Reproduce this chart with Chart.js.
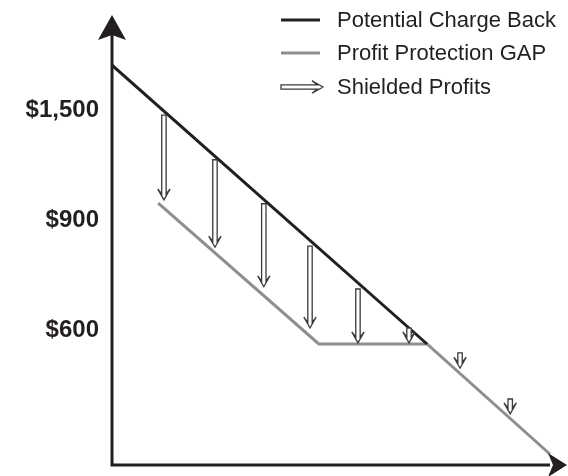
<!DOCTYPE html>
<html>
<head>
<meta charset="utf-8">
<script src="https://cdn.jsdelivr.net/npm/chart.js@4.4.1/dist/chart.umd.min.js"></script>
<style>
  html, body { margin: 0; padding: 0; background: #fff; }
  canvas { display: block; }
</style>
</head>
<body>
<canvas id="shieldChart" width="568" height="476"></canvas>
<script>
// ===== DATA (schematic units) =====
const seriesLabels = ['Potential Charge Back', 'Profit Protection GAP', 'Shielded Profits'];

const chargeBackX = [0, 71.6];
const chargeBackY = [72.7, 22];

const gapX = [10.5, 47, 71.6, 99.5];
const gapY = [47.6, 22, 22, 2];

// shielded profit arrows: x position, where the arrow starts, where it points to
const shieldX = [11.8, 23.4, 34.5, 45, 55.9, 67.5, 79.1, 90.5];
const shieldFrom = [63.6, 55.5, 47.5, 39.8, 32.0, 24.9, 20.4, 12.0];
const shieldTo = [48.2, 39.6, 32.4, 24.9, 22.2, 22.2, 17.6, 9.3];

const yTickValues = [24.5, 44.5, 64.5];
const yTickLabels = ['$600', '$900', '$1,500'];

const INK = '#231f20';
const GREY = '#8e8e8e';
const ARROW_INK = '#3a3a3a';

// hollow "⇓" style arrow, tip at (0,0) pointing +y, rotated by angle
function drawHollowArrow(ctx, tipX, tipY, length, angle) {
    const s = 2.2, h = 6.2, L = 11, n = 6;
    ctx.save();
    ctx.translate(tipX, tipY);
    ctx.rotate(angle);
    ctx.beginPath();
    ctx.moveTo(-s, -length);
    ctx.lineTo(-s, -n);
    ctx.lineTo(-h, -L);
    ctx.lineTo(0, 0);
    ctx.lineTo(h, -L);
    ctx.lineTo(s, -n);
    ctx.lineTo(s, -length);
    ctx.closePath();
    ctx.fillStyle = '#fff';
    ctx.fill();
    ctx.lineWidth = 1.3;
    ctx.lineJoin = 'miter';
    ctx.strokeStyle = ARROW_INK;
    ctx.stroke();
    ctx.restore();
}

const shieldArrows = {
    id: 'shieldArrows',
    afterDatasetsDraw(chart) {
        const { ctx } = chart;
        const meta = chart.getDatasetMeta(2);
        const yScale = chart.scales.y;
        meta.data.forEach((pt, i) => {
            const top = yScale.getPixelForValue(shieldFrom[i]);
            drawHollowArrow(ctx, pt.x, pt.y, pt.y - top, 0);
        });
    }
};

const arrowAxes = {
    id: 'arrowAxes',
    afterDatasetsDraw(chart) {
        const { ctx, chartArea: { left, right, top, bottom } } = chart;
        ctx.save();
        ctx.strokeStyle = INK;
        ctx.fillStyle = INK;
        ctx.lineWidth = 3;
        ctx.lineJoin = 'miter';
        ctx.beginPath();
        ctx.moveTo(left, top + 8);
        ctx.lineTo(left, bottom);
        ctx.lineTo(right - 2, bottom);
        ctx.stroke();

        // y arrowhead
        ctx.beginPath();
        ctx.moveTo(left, top - 10);
        ctx.lineTo(left - 14, top + 15);
        ctx.lineTo(left, top + 10);
        ctx.lineTo(left + 14, top + 15);
        ctx.closePath();
        ctx.fill();

        // x arrowhead
        ctx.beginPath();
        ctx.moveTo(right + 15, bottom);
        ctx.lineTo(right - 4, bottom - 12);
        ctx.lineTo(right + 1, bottom);
        ctx.lineTo(right - 4, bottom + 12);
        ctx.closePath();
        ctx.fill();
        ctx.restore();
    }
};

const customLegend = {
    id: 'customLegend',
    afterDraw(chart) {
        const { ctx } = chart;
        const rows = [20, 53, 87];
        ctx.save();
        ctx.font = '22px "Liberation Sans", Arial, sans-serif';
        ctx.textBaseline = 'middle';
        ctx.textAlign = 'left';
        seriesLabels.forEach((label, i) => {
            const y = rows[i];
            if (i < 2) {
                ctx.beginPath();
                ctx.moveTo(281, y);
                ctx.lineTo(320, y);
                ctx.lineWidth = 3;
                ctx.strokeStyle = i === 0 ? INK : GREY;
                ctx.stroke();
            } else {
                drawHollowArrow(ctx, 323, y, 42, -Math.PI / 2);
            }
            ctx.fillStyle = INK;
            ctx.fillText(label, 337, y + 1);
        });
        ctx.restore();
    }
};

new Chart(document.getElementById('shieldChart'), {
    type: 'line',
    data: {
        datasets: [{
            label: seriesLabels[0],
            data: chargeBackX.map((x, i) => ({ x, y: chargeBackY[i] })),
            borderColor: INK,
            borderWidth: 3,
            pointRadius: 0,
            borderJoinStyle: 'miter',
            tension: 0
        }, {
            label: seriesLabels[1],
            data: gapX.map((x, i) => ({ x, y: gapY[i] })),
            borderColor: GREY,
            borderWidth: 3,
            pointRadius: 0,
            borderJoinStyle: 'miter',
            tension: 0
        }, {
            label: seriesLabels[2],
            data: shieldX.map((x, i) => ({ x, y: shieldTo[i] })),
            showLine: false,
            pointRadius: 0
        }]
    },
    options: {
        responsive: false,
        animation: false,
        layout: { padding: { left: 25, top: 25, right: 16, bottom: 11 } },
        plugins: {
            legend: { display: false },
            tooltip: { enabled: false }
        },
        scales: {
            x: { type: 'linear', min: 0, max: 100, display: false },
            y: {
                type: 'linear',
                min: 0,
                max: 80,
                grid: { display: false, drawTicks: false },
                border: { display: false },
                afterBuildTicks(scale) {
                    scale.ticks = yTickValues.map(v => ({ value: v }));
                },
                afterFit(scale) {
                    scale.width = 87;
                    scale.paddingTop = 0;
                    scale.paddingBottom = 0;
                },
                ticks: {
                    padding: 13,
                    color: INK,
                    font: { family: '"Liberation Sans", Arial, sans-serif', size: 24, weight: 'bold' },
                    callback: (value) => yTickLabels[yTickValues.indexOf(value)]
                }
            }
        }
    },
    plugins: [shieldArrows, arrowAxes, customLegend]
});
</script>
</body>
</html>
